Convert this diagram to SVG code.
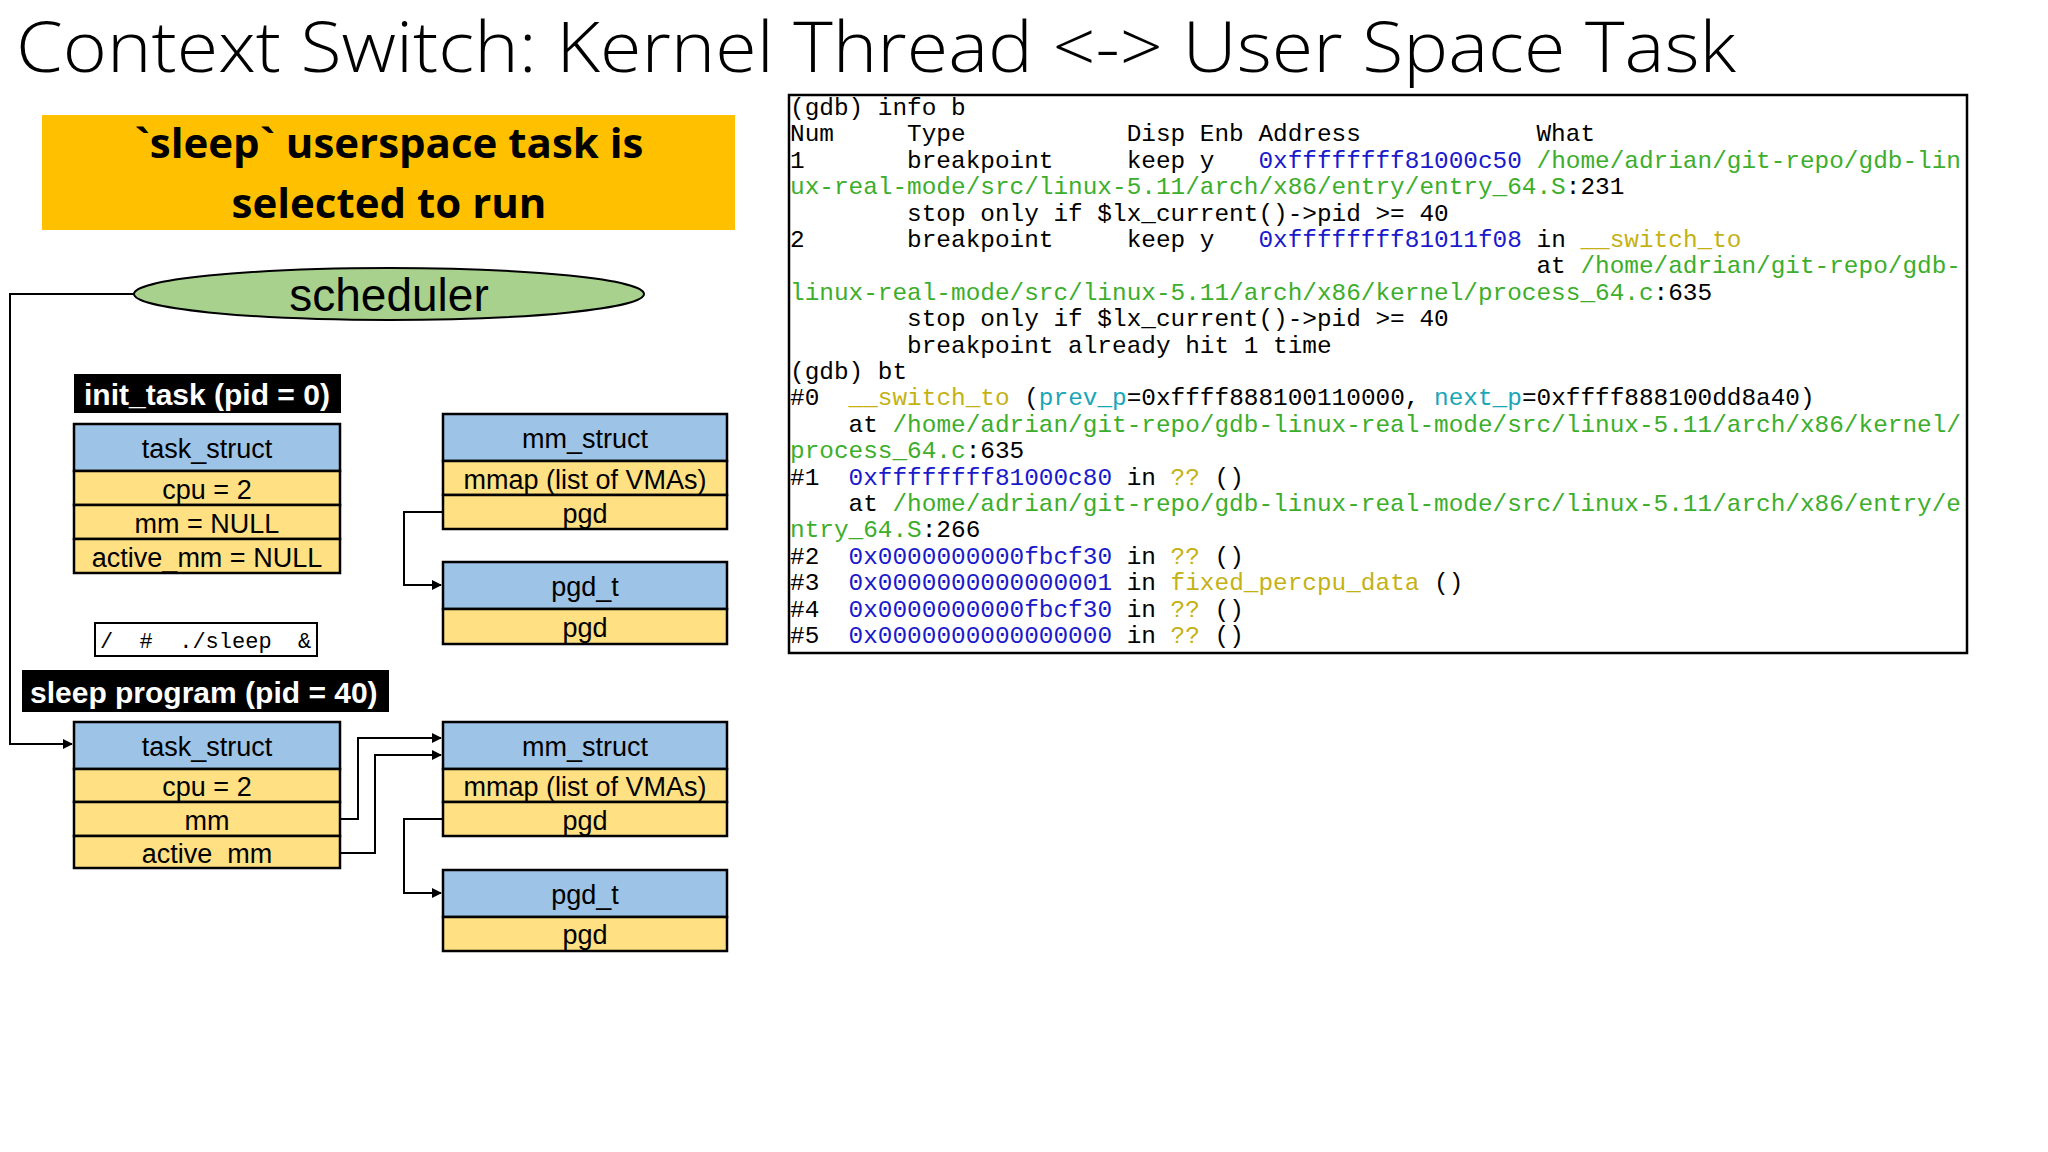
<svg xmlns="http://www.w3.org/2000/svg" width="2048" height="1152" viewBox="0 0 2048 1152">
<style>
.s{font-family:"Liberation Sans",Arial,sans-serif;text-anchor:middle;font-size:27px;fill:#000}
.h{fill:#9DC3E6;stroke:#000;stroke-width:2.5}
.r{fill:#FFE083;stroke:#000;stroke-width:2.5}
.lbl{font-family:"Liberation Sans",Arial,sans-serif;font-weight:bold;font-size:30px;fill:#fff}
.c{fill:none;stroke:#000;stroke-width:2}
.m{font-family:"Liberation Mono","Courier New",monospace;font-size:24.4px;fill:#000}
.b{fill:#1a1acc}.g{fill:#3cae2c}.y{fill:#c4b214}.t{fill:#19a6b8}
</style>
<defs><marker id="a" markerWidth="10" markerHeight="10" refX="9" refY="5" orient="auto" markerUnits="userSpaceOnUse"><path d="M0,0L10,5L0,10z" fill="#000"/></marker></defs>
<text x="16" y="72" font-family="'Open Sans','Liberation Sans',sans-serif" font-size="70" font-weight="300" textLength="1720" lengthAdjust="spacingAndGlyphs">Context Switch: Kernel Thread &lt;-&gt; User Space Task</text>
<g id="banner"><rect x="42" y="115" width="693" height="115" fill="#FFC000"/>
<text x="389" y="158" font-family="'Open Sans','Liberation Sans',sans-serif" font-weight="bold" font-size="42" text-anchor="middle">`sleep` userspace task is</text>
<text x="389" y="218" font-family="'Open Sans','Liberation Sans',sans-serif" font-weight="bold" font-size="42" text-anchor="middle">selected to run</text></g>
<g id="scheduler"><ellipse cx="389" cy="294" rx="255" ry="26" fill="#A9D18E" stroke="#000" stroke-width="2"/>
<text x="389" y="311" class="s" style="font-size:46px">scheduler</text></g>
<g id="init_label"><rect x="74" y="374" width="267" height="39" fill="#000"/><text x="84" y="405" class="lbl">init_task (pid = 0)</text></g>
<g id="init_task">
<rect class="h" x="74" y="424" width="266" height="47"/><text class="s" x="207" y="458">task_struct</text>
<rect class="r" x="74" y="471" width="266" height="34"/><text class="s" x="207" y="499">cpu = 2</text>
<rect class="r" x="74" y="505" width="266" height="34"/><text class="s" x="207" y="533">mm = NULL</text>
<rect class="r" x="74" y="539" width="266" height="34"/><text class="s" x="207" y="567">active_mm = NULL</text></g>
<g id="mm1">
<rect class="h" x="443" y="414" width="284" height="47"/><text class="s" x="585" y="448">mm_struct</text>
<rect class="r" x="443" y="461" width="284" height="34"/><text class="s" x="585" y="489">mmap (list of VMAs)</text>
<rect class="r" x="443" y="495" width="284" height="34"/><text class="s" x="585" y="523">pgd</text></g>
<g id="pgd1">
<rect class="h" x="443" y="562" width="284" height="47"/><text class="s" x="585" y="596">pgd_t</text>
<rect class="r" x="443" y="609" width="284" height="35"/><text class="s" x="585" y="637">pgd</text></g>
<g id="cmd"><rect x="95" y="623" width="222" height="33" fill="#fff" stroke="#000" stroke-width="2"/>
<text x="100" y="648" font-family="'Liberation Mono',monospace" font-size="22" xml:space="preserve">/  #  ./sleep  &amp;</text></g>
<g id="sleep_label"><rect x="22" y="670" width="367" height="42" fill="#000"/><text x="30" y="703" class="lbl">sleep program (pid = 40)</text></g>
<g id="sleep_task">
<rect class="h" x="74" y="722" width="266" height="47"/><text class="s" x="207" y="756">task_struct</text>
<rect class="r" x="74" y="769" width="266" height="33"/><text class="s" x="207" y="796">cpu = 2</text>
<rect class="r" x="74" y="802" width="266" height="34"/><text class="s" x="207" y="830">mm</text>
<rect class="r" x="74" y="836" width="266" height="32"/><text class="s" x="207" y="863">active_mm</text></g>
<g id="mm2">
<rect class="h" x="443" y="722" width="284" height="47"/><text class="s" x="585" y="756">mm_struct</text>
<rect class="r" x="443" y="769" width="284" height="33"/><text class="s" x="585" y="796">mmap (list of VMAs)</text>
<rect class="r" x="443" y="802" width="284" height="34"/><text class="s" x="585" y="830">pgd</text></g>
<g id="pgd2">
<rect class="h" x="443" y="870" width="284" height="47"/><text class="s" x="585" y="904">pgd_t</text>
<rect class="r" x="443" y="917" width="284" height="34"/><text class="s" x="585" y="944">pgd</text></g>
<g id="connectors">
<path class="c" d="M134,294H10V744H72" marker-end="url(#a)"/>
<path class="c" d="M443,512H404V585H441" marker-end="url(#a)"/>
<path class="c" d="M340,819H358V738H441" marker-end="url(#a)"/>
<path class="c" d="M340,853H375V755H441" marker-end="url(#a)"/>
<path class="c" d="M443,819H404V893H441" marker-end="url(#a)"/>
</g>
<g id="gdb">
<rect x="789" y="95" width="1178" height="558" fill="#fff" stroke="#000" stroke-width="2.5"/>
<text class="m" xml:space="preserve">
<tspan x="790" y="115">(gdb) info b</tspan>
<tspan x="790" y="141.4">Num     Type           Disp Enb Address            What</tspan>
<tspan x="790" y="167.8">1       breakpoint     keep y   <tspan class="b">0xffffffff81000c50</tspan> <tspan class="g">/home/adrian/git-repo/gdb-lin</tspan></tspan>
<tspan x="790" y="194.2"><tspan class="g">ux-real-mode/src/linux-5.11/arch/x86/entry/entry_64.S</tspan>:231</tspan>
<tspan x="790" y="220.6">        stop only if $lx_current()-&gt;pid &gt;= 40</tspan>
<tspan x="790" y="247">2       breakpoint     keep y   <tspan class="b">0xffffffff81011f08</tspan> in <tspan class="y">__switch_to</tspan></tspan>
<tspan x="790" y="273.4">                                                   at <tspan class="g">/home/adrian/git-repo/gdb-</tspan></tspan>
<tspan x="790" y="299.8"><tspan class="g">linux-real-mode/src/linux-5.11/arch/x86/kernel/process_64.c</tspan>:635</tspan>
<tspan x="790" y="326.2">        stop only if $lx_current()-&gt;pid &gt;= 40</tspan>
<tspan x="790" y="352.6">        breakpoint already hit 1 time</tspan>
<tspan x="790" y="379">(gdb) bt</tspan>
<tspan x="790" y="405.4">#0  <tspan class="y">__switch_to</tspan> (<tspan class="t">prev_p</tspan>=0xffff888100110000, <tspan class="t">next_p</tspan>=0xffff888100dd8a40)</tspan>
<tspan x="790" y="431.8">    at <tspan class="g">/home/adrian/git-repo/gdb-linux-real-mode/src/linux-5.11/arch/x86/kernel/</tspan></tspan>
<tspan x="790" y="458.2"><tspan class="g">process_64.c</tspan>:635</tspan>
<tspan x="790" y="484.6">#1  <tspan class="b">0xffffffff81000c80</tspan> in <tspan class="y">??</tspan> ()</tspan>
<tspan x="790" y="511">    at <tspan class="g">/home/adrian/git-repo/gdb-linux-real-mode/src/linux-5.11/arch/x86/entry/e</tspan></tspan>
<tspan x="790" y="537.4"><tspan class="g">ntry_64.S</tspan>:266</tspan>
<tspan x="790" y="563.8">#2  <tspan class="b">0x0000000000fbcf30</tspan> in <tspan class="y">??</tspan> ()</tspan>
<tspan x="790" y="590.2">#3  <tspan class="b">0x0000000000000001</tspan> in <tspan class="y">fixed_percpu_data</tspan> ()</tspan>
<tspan x="790" y="616.6">#4  <tspan class="b">0x0000000000fbcf30</tspan> in <tspan class="y">??</tspan> ()</tspan>
<tspan x="790" y="643">#5  <tspan class="b">0x0000000000000000</tspan> in <tspan class="y">??</tspan> ()</tspan>
</text></g>
</svg>
